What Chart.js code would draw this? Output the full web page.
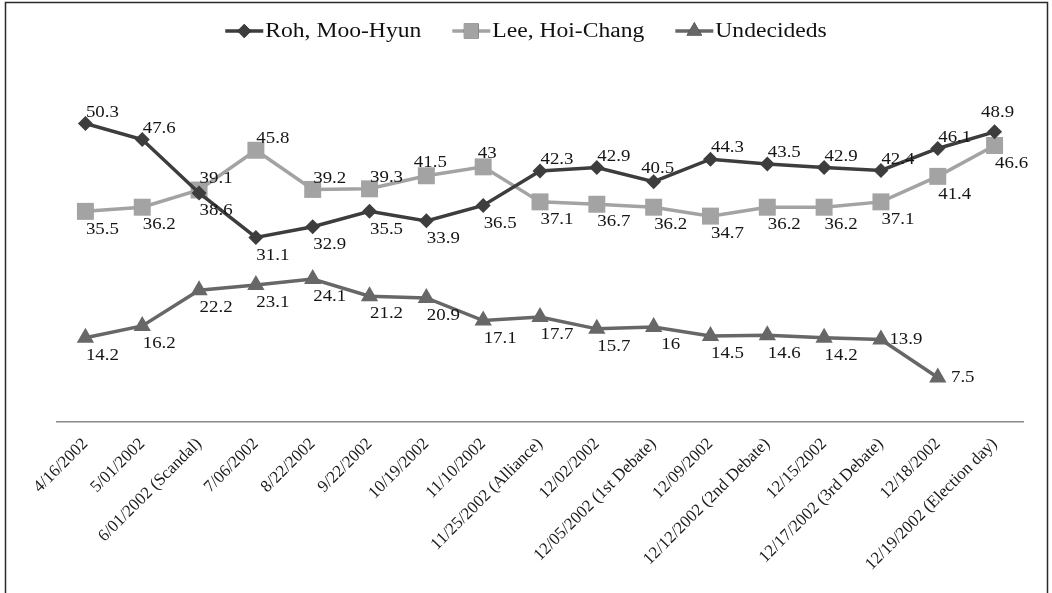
<!DOCTYPE html>
<html>
<head>
<meta charset="utf-8">
<script src="https://cdn.jsdelivr.net/npm/chart.js@4/dist/chart.umd.min.js"></script>
<style>
  html, body { margin: 0; padding: 0; background: #ffffff; }
  #wrap { position: relative; width: 1052px; height: 593px; }
  canvas { display: block; }
</style>
</head>
<body>
<div id="wrap"><canvas id="chart" width="1052" height="593"></canvas></div>
<script>
// Poll dates (x axis categories)
const pollDates = [
  '4/16/2002', '5/01/2002', '6/01/2002 (Scandal)', '7/06/2002', '8/22/2002',
  '9/22/2002', '10/19/2002', '11/10/2002', '11/25/2002 (Alliance)', '12/02/2002',
  '12/05/2002 (1st Debate)', '12/09/2002', '12/12/2002 (2nd Debate)', '12/15/2002',
  '12/17/2002 (3rd Debate)', '12/18/2002', '12/19/2002 (Election day)'
];

// Support (%) per candidate
const rohValues = [50.3, 47.6, 38.6, 31.1, 32.9, 35.5, 33.9, 36.5, 42.3, 42.9, 40.5, 44.3, 43.5, 42.9, 42.4, 46.1, 48.9];
const leeValues = [35.5, 36.2, 39.1, 45.8, 39.2, 39.3, 41.5, 43, 37.1, 36.7, 36.2, 34.7, 36.2, 36.2, 37.1, 41.4, 46.6];
const undecidedValues = [14.2, 16.2, 22.2, 23.1, 24.1, 21.2, 20.9, 17.1, 17.7, 15.7, 16, 14.5, 14.6, 14.2, 13.9, 7.5, null];

// Where each value label sits next to its point: a = above, b = below, t = on top, u = high on top, r = right
const rohLabelSide = ['a','a','b','b','b','b','b','b','a','a','t','a','a','a','a','a','u'];
const leeLabelSide = ['b','b','a','a','a','a','t','t','b','b','b','b','b','b','b','b','b'];
const undecidedLabelSide = ['b','b','b','b','b','b','b','b','b','b','b','b','b','b','r','r','r'];

const SIDE_OFFSETS = { a: [17, -11], b: [17, 18], t: [4, -13], u: [3, -19], r: [25, 0] };
const SERIF = '"Liberation Serif", "Times New Roman", serif';
const STRETCH = 1.18;

const valueLabels = {
  id: 'valueLabels',
  afterDatasetsDraw(chart) {
    const ctx = chart.ctx;
    ctx.save();
    ctx.font = '16px ' + SERIF;
    ctx.fillStyle = '#151515';
    ctx.textAlign = 'center';
    ctx.textBaseline = 'middle';
    chart.data.datasets.forEach((ds, di) => {
      const meta = chart.getDatasetMeta(di);
      meta.data.forEach((pt, i) => {
        const v = ds.data[i];
        if (v === null || v === undefined) return;
        const off = SIDE_OFFSETS[ds.labelSide[i]] || SIDE_OFFSETS.a;
        ctx.save();
        ctx.translate(pt.x + off[0], pt.y + off[1]);
        ctx.scale(STRETCH, 1);
        ctx.fillText(String(v), 0, 0);
        ctx.restore();
      });
    });
    ctx.restore();
  }
};

// Legend with a short line through each marker, centred over the chart
const lineLegend = {
  id: 'lineLegend',
  afterDraw(chart) {
    const ctx = chart.ctx;
    const y = 31, symW = 38, textGap = 2, itemGap = 31;
    ctx.save();
    ctx.font = '20px ' + SERIF;
    const items = chart.data.datasets.map(ds => ({ ds, w: ctx.measureText(ds.label).width * STRETCH }));
    const total = items.reduce((s, it) => s + symW + textGap + it.w, 0) + itemGap * (items.length - 1);
    let x = (chart.width - total) / 2;
    items.forEach(({ ds, w }) => {
      ctx.strokeStyle = ds.borderColor;
      ctx.lineWidth = ds.borderWidth;
      ctx.beginPath();
      ctx.moveTo(x, y);
      ctx.lineTo(x + symW, y);
      ctx.stroke();
      Chart.helpers.drawPoint(ctx, {
        pointStyle: ds.pointStyle,
        radius: ds.legendRadius,
        borderWidth: 0,
        rotation: 0
      }, x + symW / 2, y);
      ctx.fillStyle = ds.backgroundColor;
      ctx.fill();
      ctx.fillStyle = '#111111';
      ctx.textAlign = 'left';
      ctx.textBaseline = 'middle';
      ctx.save();
      ctx.translate(x + symW + textGap, y + 1);
      ctx.scale(STRETCH, 1);
      ctx.fillText(ds.label, 0, 0);
      ctx.restore();
      x += symW + textGap + w + itemGap;
    });
    ctx.restore();
  }
};

// Thin frame around the figure
const frame = {
  id: 'frame',
  afterDraw(chart) {
    const ctx = chart.ctx;
    ctx.save();
    ctx.strokeStyle = '#2a2a2a';
    ctx.lineWidth = 1.5;
    ctx.beginPath();
    ctx.moveTo(5.5, chart.height);
    ctx.lineTo(5.5, 2.5);
    ctx.lineTo(1047.5, 2.5);
    ctx.lineTo(1047.5, chart.height);
    ctx.stroke();
    ctx.restore();
  }
};

const series = (label, data, color, style, radius, legendRadius, side) => ({
  label, data,
  borderColor: color,
  backgroundColor: color,
  borderWidth: 3.5,
  pointStyle: style,
  pointRadius: radius,
  pointHoverRadius: radius,
  pointBorderWidth: 0,
  pointBackgroundColor: color,
  legendRadius,
  labelSide: side,
  tension: 0,
  spanGaps: false
});

new Chart(document.getElementById('chart'), {
  type: 'line',
  data: {
    labels: pollDates,
    datasets: [
      series('Roh, Moo-Hyun', rohValues, '#3d3d3d', 'rectRot', 7.5, 7, rohLabelSide),
      series('Lee, Hoi-Chang', leeValues, '#a3a3a3', 'rect', 12, 10.5, leeLabelSide),
      series('Undecideds', undecidedValues, '#676767', 'triangle', 10, 9, undecidedLabelSide)
    ]
  },
  options: {
    responsive: false,
    animation: false,
    devicePixelRatio: 1,
    layout: { padding: { left: 57, right: 29, top: 66, bottom: 0 } },
    plugins: {
      legend: { display: false },
      tooltip: { enabled: false }
    },
    scales: {
      x: {
        offset: true,
        grid: { display: false, drawTicks: false },
        border: { display: true, color: '#8a8a8a', width: 1.5 },
        ticks: {
          autoSkip: false,
          minRotation: 45,
          maxRotation: 45,
          padding: 12,
          color: '#1a1a1a',
          font: { family: SERIF, size: 17 }
        },
        afterFit(scale) { scale.height = 171; }
      },
      y: {
        display: false,
        min: 0,
        max: 60
      }
    }
  },
  plugins: [valueLabels, lineLegend, frame]
});
</script>
</body>
</html>
